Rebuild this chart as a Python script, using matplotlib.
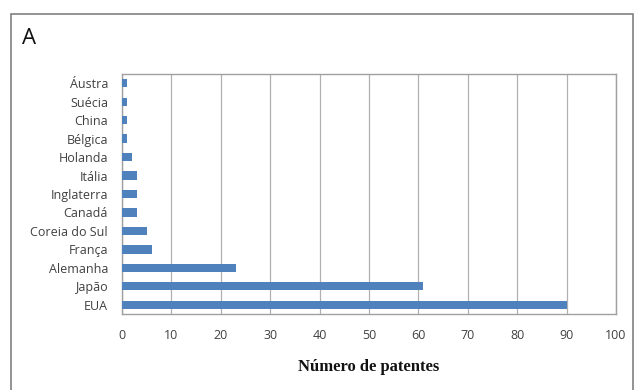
#!/usr/bin/env python3
"""Horizontal bar chart: patents by country (panel A)."""

import matplotlib

matplotlib.use("Agg")
import matplotlib.pyplot as plt
from matplotlib.patches import Rectangle

countries = ["EUA", "Japão", "Alemanha", "França", "Coreia do Sul", "Canadá",
             "Inglaterra", "Itália", "Holanda", "Bélgica", "China", "Suécia", "Áustra"]
patents = [90, 61, 23, 6, 5, 3, 3, 3, 2, 1, 1, 1, 1]
xticks = list(range(0, 101, 10))

BAR = "#4f81bd"
GRID = "#b0b0b0"
TXT = "#404040"


def main() -> None:
    fig = plt.figure(figsize=(6.4, 3.9), dpi=100)

    # outer frame of the original figure
    fig.patches.append(Rectangle((11 / 640, -0.05), 622 / 640, 1 - 14 / 390 + 0.05,
                                 transform=fig.transFigure, fill=False,
                                 edgecolor="#808080", linewidth=1.2))
    fig.text(22 / 640, 1 - 38 / 390, "A", fontsize=16, family="Open Sans",
             color="#111111", va="center", ha="left")

    ax = fig.add_axes([122 / 640, 1 - 314 / 390, 494 / 640, 240 / 390])
    y = range(len(countries))
    ax.barh(y, patents, height=0.45, color=BAR, zorder=3)

    ax.set_xlim(0, 100)
    ax.set_ylim(-0.5, len(countries) - 0.5)
    ax.set_xticks(xticks)
    ax.set_yticks(list(y))
    ax.set_yticklabels(countries)
    ax.xaxis.grid(True, color=GRID, linewidth=0.9, zorder=0)
    ax.tick_params(axis="both", length=0, labelsize=9, colors=TXT)
    ax.tick_params(axis="x", pad=11)
    ax.tick_params(axis="y", pad=10)
    for lab in ax.get_xticklabels() + ax.get_yticklabels():
        lab.set_family("Open Sans")
    for s in ax.spines.values():
        s.set_color("#a0a0a0")
        s.set_linewidth(1.0)

    ax.set_xlabel("Número de patentes", family="Liberation Serif",
                  fontweight="bold", fontsize=12, color="#111111", labelpad=12)

    fig.savefig("out.png", dpi=100)
    plt.close(fig)


if __name__ == "__main__":
    main()
